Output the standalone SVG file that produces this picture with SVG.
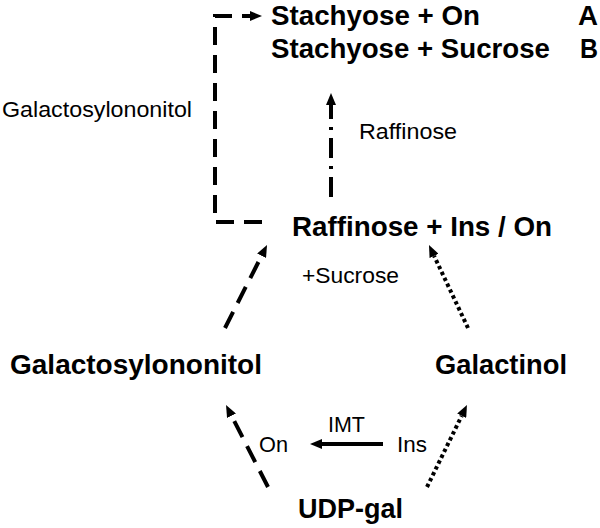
<svg xmlns="http://www.w3.org/2000/svg" width="600" height="528" viewBox="0 0 600 528">
<style>
.b{font-family:"Liberation Sans",Arial,sans-serif;font-weight:bold;font-size:28px;fill:#000}
.t{font-size:27px}
.n{font-family:"Liberation Sans",Arial,sans-serif;font-size:22px;fill:#000}
.c{fill:none;stroke:#000;stroke-width:4}
.dash{stroke-dasharray:18 10}
.dot{stroke-dasharray:3.5 3}
.dd{stroke-dasharray:20 8 3 8}
</style>
<defs>
<marker id="ah" viewBox="0 0 12 10" refX="0" refY="5" markerWidth="12" markerHeight="10" markerUnits="userSpaceOnUse" orient="auto">
<path d="M0,0 L12,5 L0,10 z" fill="#000"/>
</marker>
</defs>
<rect width="600" height="528" fill="#fff"/>
<g id="connectors">
<path class="c dash" d="M262,222 L215,222 L215,16 L250,16" marker-end="url(#ah)"/>
<path class="c dd" d="M331,197 L331,105" marker-end="url(#ah)"/>
<path class="c dash" d="M225,328 L261.6,255.7" marker-end="url(#ah)"/>
<path class="c dot" d="M468,328 L434.1,255.9" marker-end="url(#ah)"/>
<path class="c dash" d="M268,487 L231.5,415.7" marker-end="url(#ah)"/>
<path class="c dot" d="M427,487 L461.7,415.8" marker-end="url(#ah)"/>
<path class="c" d="M383,444 L322,444" marker-end="url(#ah)"/>
</g>
<g id="stachyose-on"><text class="b t" x="271" y="25" textLength="209" lengthAdjust="spacingAndGlyphs">Stachyose + On</text></g>
<g id="label-A"><text class="b t" x="578" y="25" textLength="20" lengthAdjust="spacingAndGlyphs">A</text></g>
<g id="stachyose-sucrose"><text class="b" x="271" y="58" textLength="279" lengthAdjust="spacingAndGlyphs">Stachyose + Sucrose</text></g>
<g id="label-B"><text class="b" x="580" y="58" textLength="18" lengthAdjust="spacingAndGlyphs">B</text></g>
<g id="label-galactosylononitol"><text class="n" x="2" y="117" textLength="190" lengthAdjust="spacingAndGlyphs">Galactosylononitol</text></g>
<g id="label-raffinose"><text class="n" x="359" y="139" textLength="98" lengthAdjust="spacingAndGlyphs">Raffinose</text></g>
<g id="raffinose-ins-on"><text class="b" x="292" y="236" textLength="260" lengthAdjust="spacingAndGlyphs">Raffinose + Ins / On</text></g>
<g id="label-sucrose"><text class="n" x="302" y="283" textLength="97" lengthAdjust="spacingAndGlyphs">+Sucrose</text></g>
<g id="galactosylononitol"><text class="b" x="10" y="374" textLength="252" lengthAdjust="spacingAndGlyphs">Galactosylononitol</text></g>
<g id="galactinol"><text class="b" x="435" y="374" textLength="132" lengthAdjust="spacingAndGlyphs">Galactinol</text></g>
<g id="label-IMT"><text class="n" x="328" y="432" textLength="37" lengthAdjust="spacingAndGlyphs">IMT</text></g>
<g id="label-On"><text class="n" x="259" y="452" textLength="29" lengthAdjust="spacingAndGlyphs">On</text></g>
<g id="label-Ins"><text class="n" x="397" y="452" textLength="30" lengthAdjust="spacingAndGlyphs">Ins</text></g>
<g id="udp-gal"><text class="b" x="298" y="518" textLength="105" lengthAdjust="spacingAndGlyphs">UDP-gal</text></g>
</svg>
